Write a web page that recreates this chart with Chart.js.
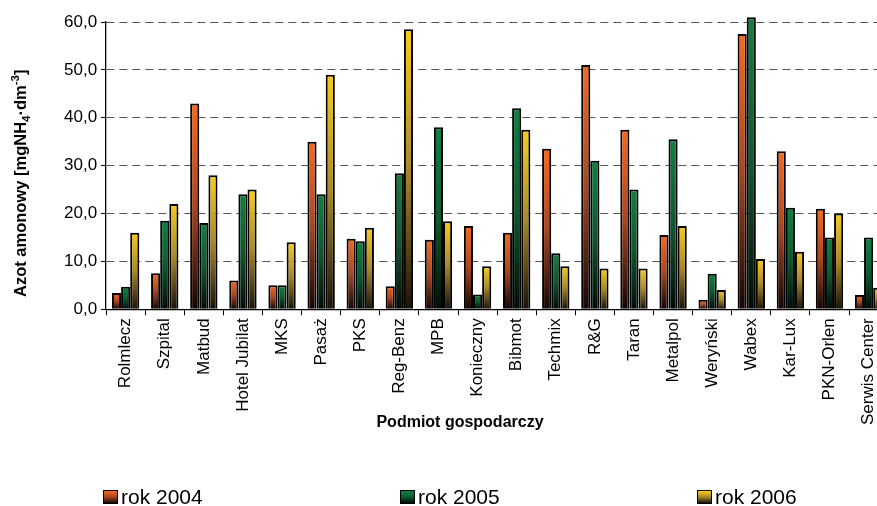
<!DOCTYPE html>
<html>
<head>
<meta charset="utf-8">
<script src="https://cdn.jsdelivr.net/npm/chart.js@4"></script>
<style>
  html, body { margin: 0; padding: 0; background: #fff; overflow: hidden; }
  #wrap { position: absolute; left: 0; top: 0; width: 892px; height: 506px; }
  #legend { position: absolute; top: 486px; left: 0; width: 877px; height: 22px; }
  .item { position: absolute; top: 0; display: flex; align-items: center;
          font-family: "Liberation Sans", Arial, sans-serif; font-size: 21px; color: #000; line-height: 22px; }
  .box { width: 13px; height: 12px; border: 1px solid #000; margin-right: 3px; }
</style>
</head>
<body>
<div id="wrap"><canvas id="chart" width="892" height="506"></canvas></div>
<div id="legend"></div>
<script>
const categories = ['Rolmlecz', 'Szpital', 'Matbud', 'Hotel Jubilat', 'MKS', 'Pasaż', 'PKS', 'Reg-Benz', 'MPB',
  'Konieczny', 'Bibmot', 'Techmix', 'R&G', 'Taran', 'Metalpol', 'Weryński', 'Wabex', 'Kar-Lux', 'PKN-Orlen', 'Serwis Center'];

const rok2004 = [3.4, 7.5, 43.0, 6.0, 5.0, 35.0, 14.7, 4.8, 14.5, 17.4, 16.0, 33.5, 51.0, 37.5, 15.5, 2.0, 57.5, 33.0, 21.0, 3.0];
const rok2005 = [4.7, 18.5, 18.0, 24.0, 5.0, 24.0, 14.2, 28.4, 38.0, 3.1, 42.0, 11.7, 31.0, 25.0, 35.5, 7.4, 61.0, 21.2, 15.0, 15.0];
const rok2006 = [16.0, 22.0, 28.0, 25.0, 14.0, 49.0, 17.0, 58.5, 18.4, 9.0, 37.5, 9.0, 8.5, 8.5, 17.4, 4.0, 10.5, 12.0, 20.0, 4.5];

const seriesNames = ['rok 2004', 'rok 2005', 'rok 2006'];
const yTicks = [0, 10, 20, 30, 40, 50, 60];
const xTitle = 'Podmiot gospodarczy';
// y title pieces: normal, subscript, normal, superscript, normal
const yTitle = [['Azot amonowy [mgNH', 0], ['4', 1], ['·dm', 0], ['-3', -1], [']', 0]];

// top / middle / bottom colours of the vertical fill
const fills = [
  ['#f46a24', '#aa4620', '#140603'],
  ['#0f8042', '#0e5a30', '#020d06'],
  ['#f7cb1f', '#a8892a', '#1a1206']
];

const font = '"Liberation Sans", Arial, sans-serif';

function barFill(stops) {
  return function (ctx) {
    const chart = ctx.chart;
    if (!chart.chartArea || !ctx.parsed) return stops[0];
    const yScale = chart.scales.y;
    const top = yScale.getPixelForValue(ctx.parsed.y);
    const base = yScale.getPixelForValue(0);
    if (!isFinite(top) || base - top < 1) return stops[0];
    const g = chart.ctx.createLinearGradient(0, top, 0, base);
    g.addColorStop(0, stops[0]);
    g.addColorStop(0.5, stops[1]);
    g.addColorStop(1, stops[2]);
    return g;
  };
}

// axis titles, drawn by hand so the sub/superscripts look right
const axisTitles = {
  id: 'axisTitles',
  afterDraw(chart) {
    const c = chart.ctx;
    c.save();
    c.fillStyle = '#000';
    c.font = 'bold 16px ' + font;
    c.textAlign = 'center';
    c.textBaseline = 'middle';
    c.fillText(xTitle, 460, 423);

    c.translate(26, 297);
    c.rotate(-Math.PI / 2);
    c.textAlign = 'left';
    c.textBaseline = 'alphabetic';
    let x = 0;
    yTitle.forEach(([t, pos]) => {
      c.font = (pos === 0 ? 'bold 16.5px ' : 'bold 11.5px ') + font;
      const dy = pos === 1 ? 4 : pos === -1 ? -7 : 0;
      c.fillText(t, x, dy);
      x += c.measureText(t).width;
    });
    c.restore();
  }
};

const values = [rok2004, rok2005, rok2006];
const datasets = values.map((v, i) => ({
  label: seriesNames[i],
  data: v,
  backgroundColor: barFill(fills[i]),
  borderColor: '#000',
  borderWidth: 2,
  clip: false,
  categoryPercentage: 0.7,
  barPercentage: 1.0
}));

const ctx = document.getElementById('chart').getContext('2d');
new Chart(ctx, {
  type: 'bar',
  data: { labels: categories, datasets: datasets },
  plugins: [axisTitles],
  options: {
    responsive: false,
    animation: false,
    layout: { padding: { top: 22, left: 60, right: 0, bottom: 78 } },
    plugins: { legend: { display: false }, tooltip: { enabled: false } },
    scales: {
      x: {
        grid: { display: true, drawOnChartArea: false, drawTicks: true, tickLength: 6, tickColor: '#000', offset: true },
        border: { color: '#000', width: 1.3 },
        ticks: { autoSkip: false, minRotation: 90, maxRotation: 90, padding: 3, color: '#000',
                 font: { family: font, size: 17 } }
      },
      y: {
        min: 0, max: 60,
        afterBuildTicks: axis => { axis.ticks = yTicks.map(v => ({ value: v })); },
        grid: { color: '#555', lineWidth: 1, tickColor: '#000', tickLength: 5 },
        border: { color: '#000', width: 1.3, dash: [8, 5] },
        ticks: { padding: 4, color: '#000', font: { family: font, size: 17 },
                 callback: v => v.toFixed(1).replace('.', ',') }
      }
    }
  }
});

// legend below the chart
const legendX = [103, 400, 697];
const legend = document.getElementById('legend');
seriesNames.forEach((name, i) => {
  const item = document.createElement('div');
  item.className = 'item';
  item.style.left = legendX[i] + 'px';
  const box = document.createElement('span');
  box.className = 'box';
  box.style.background = 'linear-gradient(' + fills[i][0] + ',' + fills[i][1] + ',' + fills[i][2] + ')';
  item.appendChild(box);
  item.appendChild(document.createTextNode(name));
  legend.appendChild(item);
});
</script>
</body>
</html>
